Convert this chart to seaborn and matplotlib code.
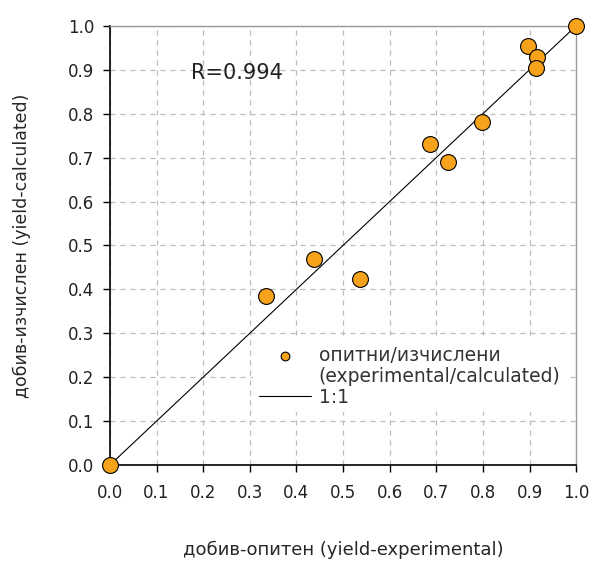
import pandas as pd
import matplotlib.pyplot as plt
from matplotlib.lines import Line2D
import seaborn as sns

# Data
experimental = [0.0, 0.334, 0.437, 0.536, 0.687, 0.725, 0.798, 0.897, 0.916, 0.913, 1.0]
calculated = [0.0, 0.386, 0.468, 0.423, 0.732, 0.690, 0.782, 0.954, 0.930, 0.905, 1.0]
ref_line = [0.0, 1.0]
ticks = [0.0, 0.1, 0.2, 0.3, 0.4, 0.5, 0.6, 0.7, 0.8, 0.9, 1.0]
r_text = "R=0.994"

df = pd.DataFrame({"exp": experimental, "calc": calculated})
line_df = pd.DataFrame({"x": ref_line, "y": ref_line})

sns.set_style("white")
plt.rcParams["font.family"] = ["DejaVu Sans"]

fig = plt.figure(figsize=(5.94, 5.61), dpi=100)
ax = fig.add_axes([0.185, 0.171, 0.785, 0.783])

sns.lineplot(data=line_df, x="x", y="y", color="black", linewidth=0.8,
             ax=ax, label="1:1", zorder=3)
sns.scatterplot(data=df, x="exp", y="calc", color="#F7A21B", edgecolor="black",
                linewidth=0.8, s=130, ax=ax, zorder=4, clip_on=False,
                label="опитни/изчислени")

ax.set_xlim(0, 1)
ax.set_ylim(0, 1)
ax.set_xticks(ticks)
ax.set_yticks(ticks)
ax.set_xticklabels([f"{t:.1f}" for t in ticks])
ax.set_yticklabels([f"{t:.1f}" for t in ticks])
ax.tick_params(axis="both", direction="out", length=5, width=1, color="black",
               labelsize=12, labelcolor="#222222", bottom=True, left=True, pad=6)
ax.tick_params(axis="x", pad=8.5)
ax.grid(True, linestyle=(0, (4, 4)), color="#bbbbbb", linewidth=0.9)
ax.set_axisbelow(True)

for side in ["left", "bottom"]:
    ax.spines[side].set_color("black")
    ax.spines[side].set_linewidth(1.2)
for side in ["top", "right"]:
    ax.spines[side].set_color("#999999")
    ax.spines[side].set_linewidth(1.0)

ax.set_xlabel("добив-опитен (yield-experimental)", fontsize=13, labelpad=28)
ax.set_ylabel("добив-изчислен (yield-calculated)", fontsize=12.5, labelpad=27)

ax.text(0.175, 0.893, r_text, transform=ax.transAxes, fontsize=15,
        color="#222222", ha="left", va="center")

# legend: marker sits on the first text line, English text on its own row
handles, labels = ax.get_legend_handles_labels()
blank = Line2D([], [], linestyle="none")
handles = [handles[1], blank, handles[0]]
labels = [labels[1], "(experimental/calculated)", labels[0]]
leg = ax.legend(handles, labels, loc="upper left", bbox_to_anchor=(0.287, 0.305),
                frameon=True, facecolor="white", edgecolor="none", framealpha=1,
                fontsize=13.5, markerscale=0.55, handlelength=2.8, handletextpad=0.4,
                labelspacing=0.1, borderpad=0.3)
for t in leg.get_texts():
    t.set_color("#333333")

fig.savefig("out.png", dpi=100)
